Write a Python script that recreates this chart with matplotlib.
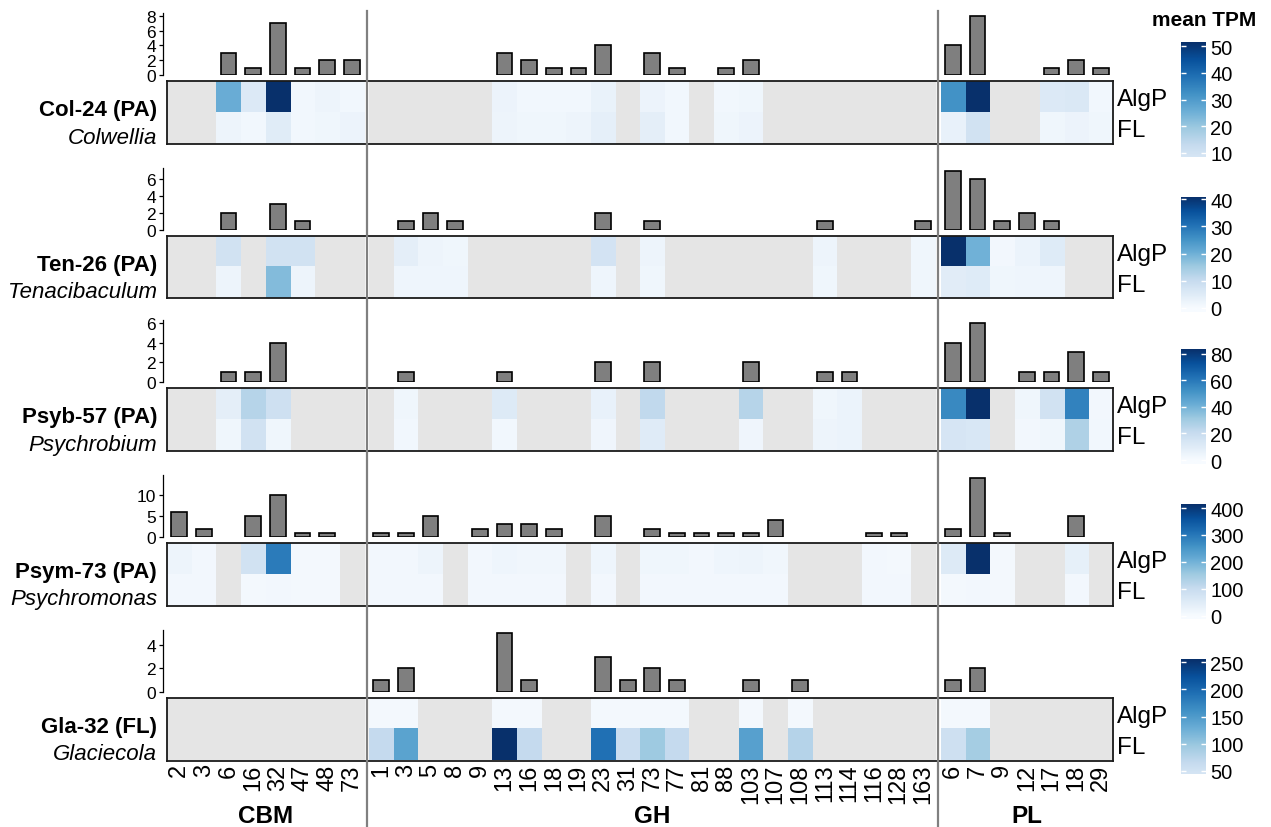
import matplotlib
matplotlib.use("Agg")
import matplotlib.pyplot as plt
import matplotlib.transforms as mtransforms
from matplotlib.lines import Line2D
from matplotlib.colors import Normalize
import numpy as np

plt.rcParams['font.family'] = ['Liberation Sans', 'DejaVu Sans']

# ---- data ----
groups = ['CBM', 'GH', 'PL']
cbm_cols = ['2', '3', '6', '16', '32', '47', '48', '73']
gh_cols = ['1', '3', '5', '8', '9', '13', '16', '18', '19', '23', '31', '73', '77', '81',
           '88', '103', '107', '108', '113', '114', '116', '128', '163']
pl_cols = ['6', '7', '9', '12', '17', '18', '29']

taxa = ['Col-24 (PA)', 'Ten-26 (PA)', 'Psyb-57 (PA)', 'Psym-73 (PA)', 'Gla-32 (FL)']
genera = ['Colwellia', 'Tenacibaculum', 'Psychrobium', 'Psychromonas', 'Glaciecola']
rows = ['AlgP', 'FL']

# gene counts (bars), order: CBM | GH | PL
col24_n = [0, 0, 3, 1, 7, 1, 2, 2,
           0, 0, 0, 0, 0, 3, 2, 1, 1, 4, 0, 3, 1, 0, 1, 2, 0, 0, 0, 0, 0, 0, 0,
           4, 8, 0, 0, 1, 2, 1]
ten26_n = [0, 0, 2, 0, 3, 1, 0, 0,
           0, 1, 2, 1, 0, 0, 0, 0, 0, 2, 0, 1, 0, 0, 0, 0, 0, 0, 1, 0, 0, 0, 1,
           7, 6, 1, 2, 1, 0, 0]
psyb57_n = [0, 0, 1, 1, 4, 0, 0, 0,
            0, 1, 0, 0, 0, 1, 0, 0, 0, 2, 0, 2, 0, 0, 0, 2, 0, 0, 1, 1, 0, 0, 0,
            4, 6, 0, 1, 1, 3, 1]
psym73_n = [6, 2, 0, 5, 10, 1, 1, 0,
            1, 1, 5, 0, 2, 3, 3, 2, 0, 5, 0, 2, 1, 1, 1, 1, 4, 0, 0, 0, 1, 1, 0,
            2, 14, 1, 0, 0, 5, 0]
gla32_n = [0, 0, 0, 0, 0, 0, 0, 0,
           1, 2, 0, 0, 0, 5, 1, 0, 0, 3, 1, 2, 1, 0, 0, 1, 0, 1, 0, 0, 0, 0, 0,
           1, 2, 0, 0, 0, 0, 0]

# mean TPM per fraction
col24_algp = [0, 0, 26, 7, 51.5, 1.5, 2.5, 1.5,
              0, 0, 0, 0, 0, 3, 1.5, 1.5, 1.5, 3.5, 0, 3, 1.5, 0, 1.5, 2, 0, 0, 0, 0, 0, 0, 0,
              32, 51.5, 0, 0, 7, 7.5, 1.5]
col24_fl = [0, 0, 2.5, 1.5, 6, 1.5, 2, 3,
            0, 0, 0, 0, 0, 2.5, 2, 2, 2.5, 4.5, 0, 5, 1.5, 0, 2, 3, 0, 0, 0, 0, 0, 0, 0,
            4, 10, 0, 0, 2, 3, 2]
ten26_algp = [0, 0, 8, 0, 8, 8, 0, 0,
              0, 4, 2, 1.5, 0, 0, 0, 0, 0, 7.5, 0, 2, 0, 0, 0, 0, 0, 0, 2, 0, 0, 0, 1.5,
              41, 20, 1, 2.5, 5, 0, 0]
ten26_fl = [0, 0, 2, 0, 18, 2, 0, 0,
            0, 1.8, 1.8, 1.8, 0, 0, 0, 0, 0, 1.8, 0, 1.5, 0, 0, 0, 0, 0, 0, 1.5, 0, 0, 0, 1.5,
            4.5, 5, 1.5, 1.8, 1.8, 0, 0]
psyb57_algp = [0, 0, 8, 25, 17, 0, 0, 0,
               0, 3, 0, 0, 0, 11, 0, 0, 0, 6, 0, 22, 0, 0, 0, 25, 0, 0, 3, 5, 0, 0, 0,
               55, 83.5, 0, 3, 16, 57, 2]
psyb57_fl = [0, 0, 3, 16, 3, 0, 0, 0,
             0, 2.5, 0, 0, 0, 2.5, 0, 0, 0, 3.5, 0, 10, 0, 0, 0, 3.5, 0, 0, 4, 5, 0, 0, 0,
             14, 13, 0, 2, 3, 27, 2.5]
psym73_algp = [20, 10, 0, 80, 295, 8, 8, 0,
               10, 10, 20, 0, 10, 18, 14, 14, 0, 18, 0, 15, 15, 10, 18, 20, 14, 0, 0, 0, 10, 8, 0,
               55, 415, 8, 0, 0, 35, 0]
psym73_fl = [10, 10, 0, 7, 10, 7, 7, 0,
             10, 10, 10, 0, 10, 10, 10, 10, 0, 10, 0, 10, 10, 10, 10, 10, 10, 0, 0, 0, 10, 10, 0,
             8, 10, 8, 0, 0, 10, 0]
gla32_algp = [0, 0, 0, 0, 0, 0, 0, 0,
              5, 5, 0, 0, 0, 5, 5, 0, 0, 5, 5, 5, 5, 0, 0, 5, 0, 5, 0, 0, 0, 0, 0,
              5, 5, 0, 0, 0, 0, 0]
gla32_fl = [0, 0, 0, 0, 0, 0, 0, 0,
            64, 140, 0, 0, 0, 256, 64, 0, 0, 192, 58, 95, 64, 0, 0, 143, 0, 77, 0, 0, 0, 0, 0,
            52, 90, 0, 0, 0, 0, 0]

# colour bar ranges and ticks
cbar_lo = [8.5, -1.5, -3, -12, 44]
cbar_hi = [51.5, 41, 83.5, 415, 256]
cbar_ticks = [[10, 20, 30, 40, 50], [0, 10, 20, 30, 40], [0, 20, 40, 60, 80],
              [0, 100, 200, 300, 400], [50, 100, 150, 200, 250]]
bar_steps = [2, 2, 2, 5, 2]

counts = [col24_n, ten26_n, psyb57_n, psym73_n, gla32_n]
algp = [col24_algp, ten26_algp, psyb57_algp, psym73_algp, gla32_algp]
fl = [col24_fl, ten26_fl, psyb57_fl, psym73_fl, gla32_fl]

# ---- layout ----
W, H = 1271, 828
fig = plt.figure(figsize=(W / 100, H / 100), dpi=100)

def rect(x0, y0, x1, y1):
    return [x0 / W, 1 - y1 / H, (x1 - x0) / W, (y1 - y0) / H]

group_cols = [cbm_cols, gh_cols, pl_cols]
gap = 0.2
xcenters, xlabels, gstarts, gends = [], [], [], []
k = 0
for g, cols in enumerate(group_cols):
    gstarts.append(k + gap * g)
    for c in cols:
        xcenters.append(k + gap * g + 0.5)
        xlabels.append(c)
        k += 1
    gends.append(k + gap * g)
xcenters = np.array(xcenters)
xmax = gends[-1]

cmap = plt.get_cmap('Blues').copy()
cmap.set_bad('#e5e5e5')

heat_left, heat_right = 167, 1113
panel_tops = [82, 236.7, 389, 544, 699]

for i in range(5):
    top = panel_tops[i]
    n = np.array(counts[i])
    vals = np.array([algp[i], fl[i]], dtype=float)
    vals[:, n == 0] = np.nan
    norm = Normalize(0, cbar_hi[i])

    # bar chart
    axb = fig.add_axes(rect(heat_left, top - 68, heat_right, top - 6))
    m = n > 0
    axb.bar(xcenters[m], n[m], width=0.64, color='#7f7f7f', edgecolor='black', linewidth=1.2)
    axb.set_xlim(0, xmax)
    axb.set_ylim(0, n.max() * 1.05)
    axb.yaxis.set_major_locator(plt.MultipleLocator(bar_steps[i]))
    for s in ['top', 'right', 'bottom']:
        axb.spines[s].set_visible(False)
    axb.spines['left'].set_position(('outward', 3))
    axb.spines['left'].set_linewidth(0.9)
    axb.set_xticks([])
    axb.tick_params(axis='y', length=3, width=0.9, pad=2, labelsize=12.5)
    axb.patch.set_visible(False)

    # heatmap
    axh = fig.add_axes(rect(heat_left, top, heat_right, top + 62.5))
    k0 = 0
    for g, cols in enumerate(group_cols):
        sub = np.ma.masked_invalid(vals[:, k0:k0 + len(cols)])
        axh.imshow(sub, cmap=cmap, norm=norm, aspect='auto', interpolation='nearest',
                   extent=[gstarts[g], gends[g], 2, 0])
        k0 += len(cols)
    axh.set_xlim(0, xmax)
    axh.set_ylim(2, 0)
    for s in axh.spines.values():
        s.set_linewidth(1.3)
        s.set_color('#1a1a1a')
    axh.yaxis.tick_right()
    axh.set_yticks([0.5, 1.5])
    axh.set_yticklabels(rows, fontsize=17.5)
    axh.tick_params(axis='y', length=0, pad=3)
    if i == 4:
        axh.set_xticks(xcenters)
        axh.set_xticklabels(xlabels, rotation=90, fontsize=17)
        axh.tick_params(axis='x', length=0, pad=2)
        tr = mtransforms.blended_transform_factory(axh.transData, fig.transFigure)
        for g in range(3):
            axh.text((gstarts[g] + gends[g]) / 2, 1 - 817 / H, groups[g], transform=tr,
                     ha='center', va='center', fontsize=17.5, fontweight='bold')
        for g in range(2):
            xs = (gends[g] + gstarts[g + 1]) / 2
            fig.add_artist(Line2D([xs, xs], [0, 1 - 12 / H], transform=tr,
                                  color='#808080', linewidth=1.6, zorder=5))
    else:
        axh.set_xticks([])

    fig.text(157 / W, 1 - (top + 28.5) / H, taxa[i], ha='right', va='center',
             fontsize=16, fontweight='bold')
    fig.text(157 / W, 1 - (top + 56) / H, genera[i], ha='right', va='center',
             fontsize=16, style='italic')

    # colour bar
    cax = fig.add_axes(rect(1181, top - 39, 1206, top + 76))
    lo, hi = cbar_lo[i], cbar_hi[i]
    grad = np.linspace(lo, hi, 256)[:, None]
    cax.imshow(grad, cmap=cmap, norm=norm, aspect='auto', origin='lower',
               extent=[0, 1, lo, hi])
    cax.set_xlim(0, 1)
    cax.set_ylim(lo, hi)
    for s in cax.spines.values():
        s.set_visible(False)
    cax.set_xticks([])
    cax.yaxis.tick_right()
    cax.set_yticks(cbar_ticks[i])
    cax.tick_params(axis='y', length=0, pad=3, labelsize=14.5)
    cax.hlines(cbar_ticks[i], 0, 0.2, color='white', linewidth=1)
    cax.hlines(cbar_ticks[i], 0.8, 1, color='white', linewidth=1)

fig.text(1152 / W, 1 - 20 / H, 'mean TPM', ha='left', va='center',
         fontsize=15, fontweight='bold')

fig.savefig('out.png', dpi=100)
